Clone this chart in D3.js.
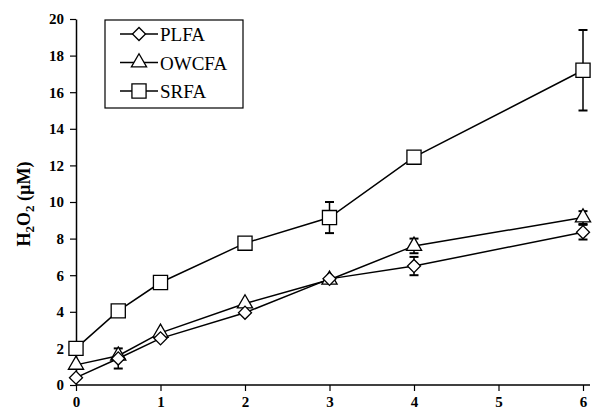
<!DOCTYPE html>
<html>
<head>
<meta charset="utf-8">
<script src="https://cdn.jsdelivr.net/npm/d3@7"></script>
<style>
  body { margin: 0; background: #fff; }
  svg text { font-family: "Liberation Serif", "Times New Roman", serif; }
</style>
</head>
<body>
<div id="chart"></div>
<script>
// data
const times = [0, 0.5, 1, 2, 3, 4, 6];
const plfa_values  = [0.4, 1.45, 2.55, 3.95, 5.8, 6.5, 8.35];
const plfa_errors  = [0, 0.55, 0, 0, 0, 0.5, 0.4];
const owcfa_values = [1.1, 1.6, 2.85, 4.45, 5.75, 7.6, 9.15];
const owcfa_errors = [0, 0, 0, 0, 0, 0.4, 0.35];
const srfa_values  = [2.0, 4.05, 5.6, 7.75, 9.15, 12.45, 17.2];
const srfa_errors  = [0, 0, 0, 0, 0.85, 0, 2.2];
const series_names = ["PLFA", "OWCFA", "SRFA"];
const y_ticks = [0, 2, 4, 6, 8, 10, 12, 14, 16, 18, 20];
const x_ticks = [0, 1, 2, 3, 4, 5, 6];

const chart_width = 595, chart_height = 412;
const margin = {left: 76, right: 12, top: 19, bottom: 27};

// diamond drawn as a square turned by 45 degrees
const series = [
  {name: "SRFA",  values: srfa_values,  errors: srfa_errors,  symbol: d3.symbolSquare,   size: 200, rot: 0},
  {name: "OWCFA", values: owcfa_values, errors: owcfa_errors, symbol: d3.symbolTriangle, size: 100, rot: 0},
  {name: "PLFA",  values: plfa_values,  errors: plfa_errors,  symbol: d3.symbolSquare,   size: 85,  rot: 45}
];

const svg = d3.select("#chart")
  .append("svg")
    .attr("width", chart_width)
    .attr("height", chart_height);

const x = d3.scaleLinear()
  .domain([0, 6])
  .range([margin.left, 583]);
const y = d3.scaleLinear()
  .domain([0, 20])
  .range([chart_height - margin.bottom, margin.top]);

// axes
const y_axis = svg.append("g")
  .attr("transform", `translate(${margin.left},0)`)
  .call(d3.axisLeft(y).tickValues(y_ticks).tickFormat(d3.format("d"))
    .tickSize(6).tickPadding(6).tickSizeOuter(0));
const x_axis = svg.append("g")
  .attr("transform", `translate(0,${y(0)})`)
  .call(d3.axisBottom(x).tickValues(x_ticks).tickFormat(d3.format("d"))
    .tickSize(6).tickPadding(5).tickSizeOuter(0));
x_axis.select(".domain").attr("d", `M${margin.left},0H590`);

[y_axis, x_axis].forEach((ax) => {
  ax.attr("font-family", null);
  ax.select(".domain").attr("stroke", "#000").attr("stroke-width", 1.5);
  ax.selectAll(".tick line").attr("stroke", "#000").attr("stroke-width", 1.2);
  ax.selectAll(".tick text")
    .attr("fill", "#000")
    .style("font-weight", "bold")
    .style("font-size", "15px");
});

// y label
const y_label = svg.append("text")
  .attr("transform", "translate(30,204) rotate(-90)")
  .attr("text-anchor", "middle")
  .style("font-weight", "bold")
  .style("font-size", "18px");
y_label.append("tspan").text("H");
y_label.append("tspan").text("2").attr("dy", 4).style("font-size", "13px");
y_label.append("tspan").text("O").attr("dy", -4);
y_label.append("tspan").text("2").attr("dy", 4).style("font-size", "13px");
y_label.append("tspan").text(" (\u00b5M)").attr("dy", -4);

const line = d3.line()
  .x((d, i) => x(times[i]))
  .y((d) => y(d));

// lines
series.forEach((s) => {
  svg.append("path")
    .datum(s.values)
    .attr("d", line)
    .attr("fill", "none")
    .attr("stroke", "#000")
    .attr("stroke-width", 1.5);
});

// error bars
series.forEach((s) => {
  const err_g = svg.append("g");
  s.values.forEach((v, i) => {
    const e = s.errors[i];
    if (!e) return;
    const cx = x(times[i]);
    err_g.append("line")
      .attr("x1", cx).attr("x2", cx)
      .attr("y1", y(v - e)).attr("y2", y(v + e))
      .attr("stroke", "#000").attr("stroke-width", 1.5);
    [v - e, v + e].forEach((w) => {
      err_g.append("line")
        .attr("x1", cx - 4.5).attr("x2", cx + 4.5)
        .attr("y1", y(w)).attr("y2", y(w))
        .attr("stroke", "#000").attr("stroke-width", 2);
    });
  });
});

// markers
series.forEach((s) => {
  svg.append("g")
    .selectAll("path")
    .data(s.values)
    .join("path")
      .attr("d", d3.symbol().type(s.symbol).size(s.size))
      .attr("transform", (d, i) => `translate(${x(times[i])},${y(d)}) rotate(${s.rot})`)
      .attr("fill", "#fff")
      .attr("stroke", "#000")
      .attr("stroke-width", 1.3);
});

// legend
const legend = svg.append("g");
legend.append("rect")
  .attr("x", 105).attr("y", 20)
  .attr("width", 138).attr("height", 88)
  .attr("fill", "#fff")
  .attr("stroke", "#000")
  .attr("stroke-width", 1.2);

const legend_rows = series_names.map((n) => series.find((s) => s.name == n));
legend_rows.forEach((s, i) => {
  const ly = 34 + i * 28.5;
  legend.append("line")
    .attr("x1", 120).attr("x2", 158)
    .attr("y1", ly).attr("y2", ly)
    .attr("stroke", "#000").attr("stroke-width", 1.5);
  legend.append("path")
    .attr("d", d3.symbol().type(s.symbol).size(s.size))
    .attr("transform", `translate(139,${ly}) rotate(${s.rot})`)
    .attr("fill", "#fff")
    .attr("stroke", "#000")
    .attr("stroke-width", 1.3);
  legend.append("text")
    .attr("x", 160).attr("y", ly + 7)
    .style("font-size", "19px")
    .text(s.name);
});
</script>
</body>
</html>
